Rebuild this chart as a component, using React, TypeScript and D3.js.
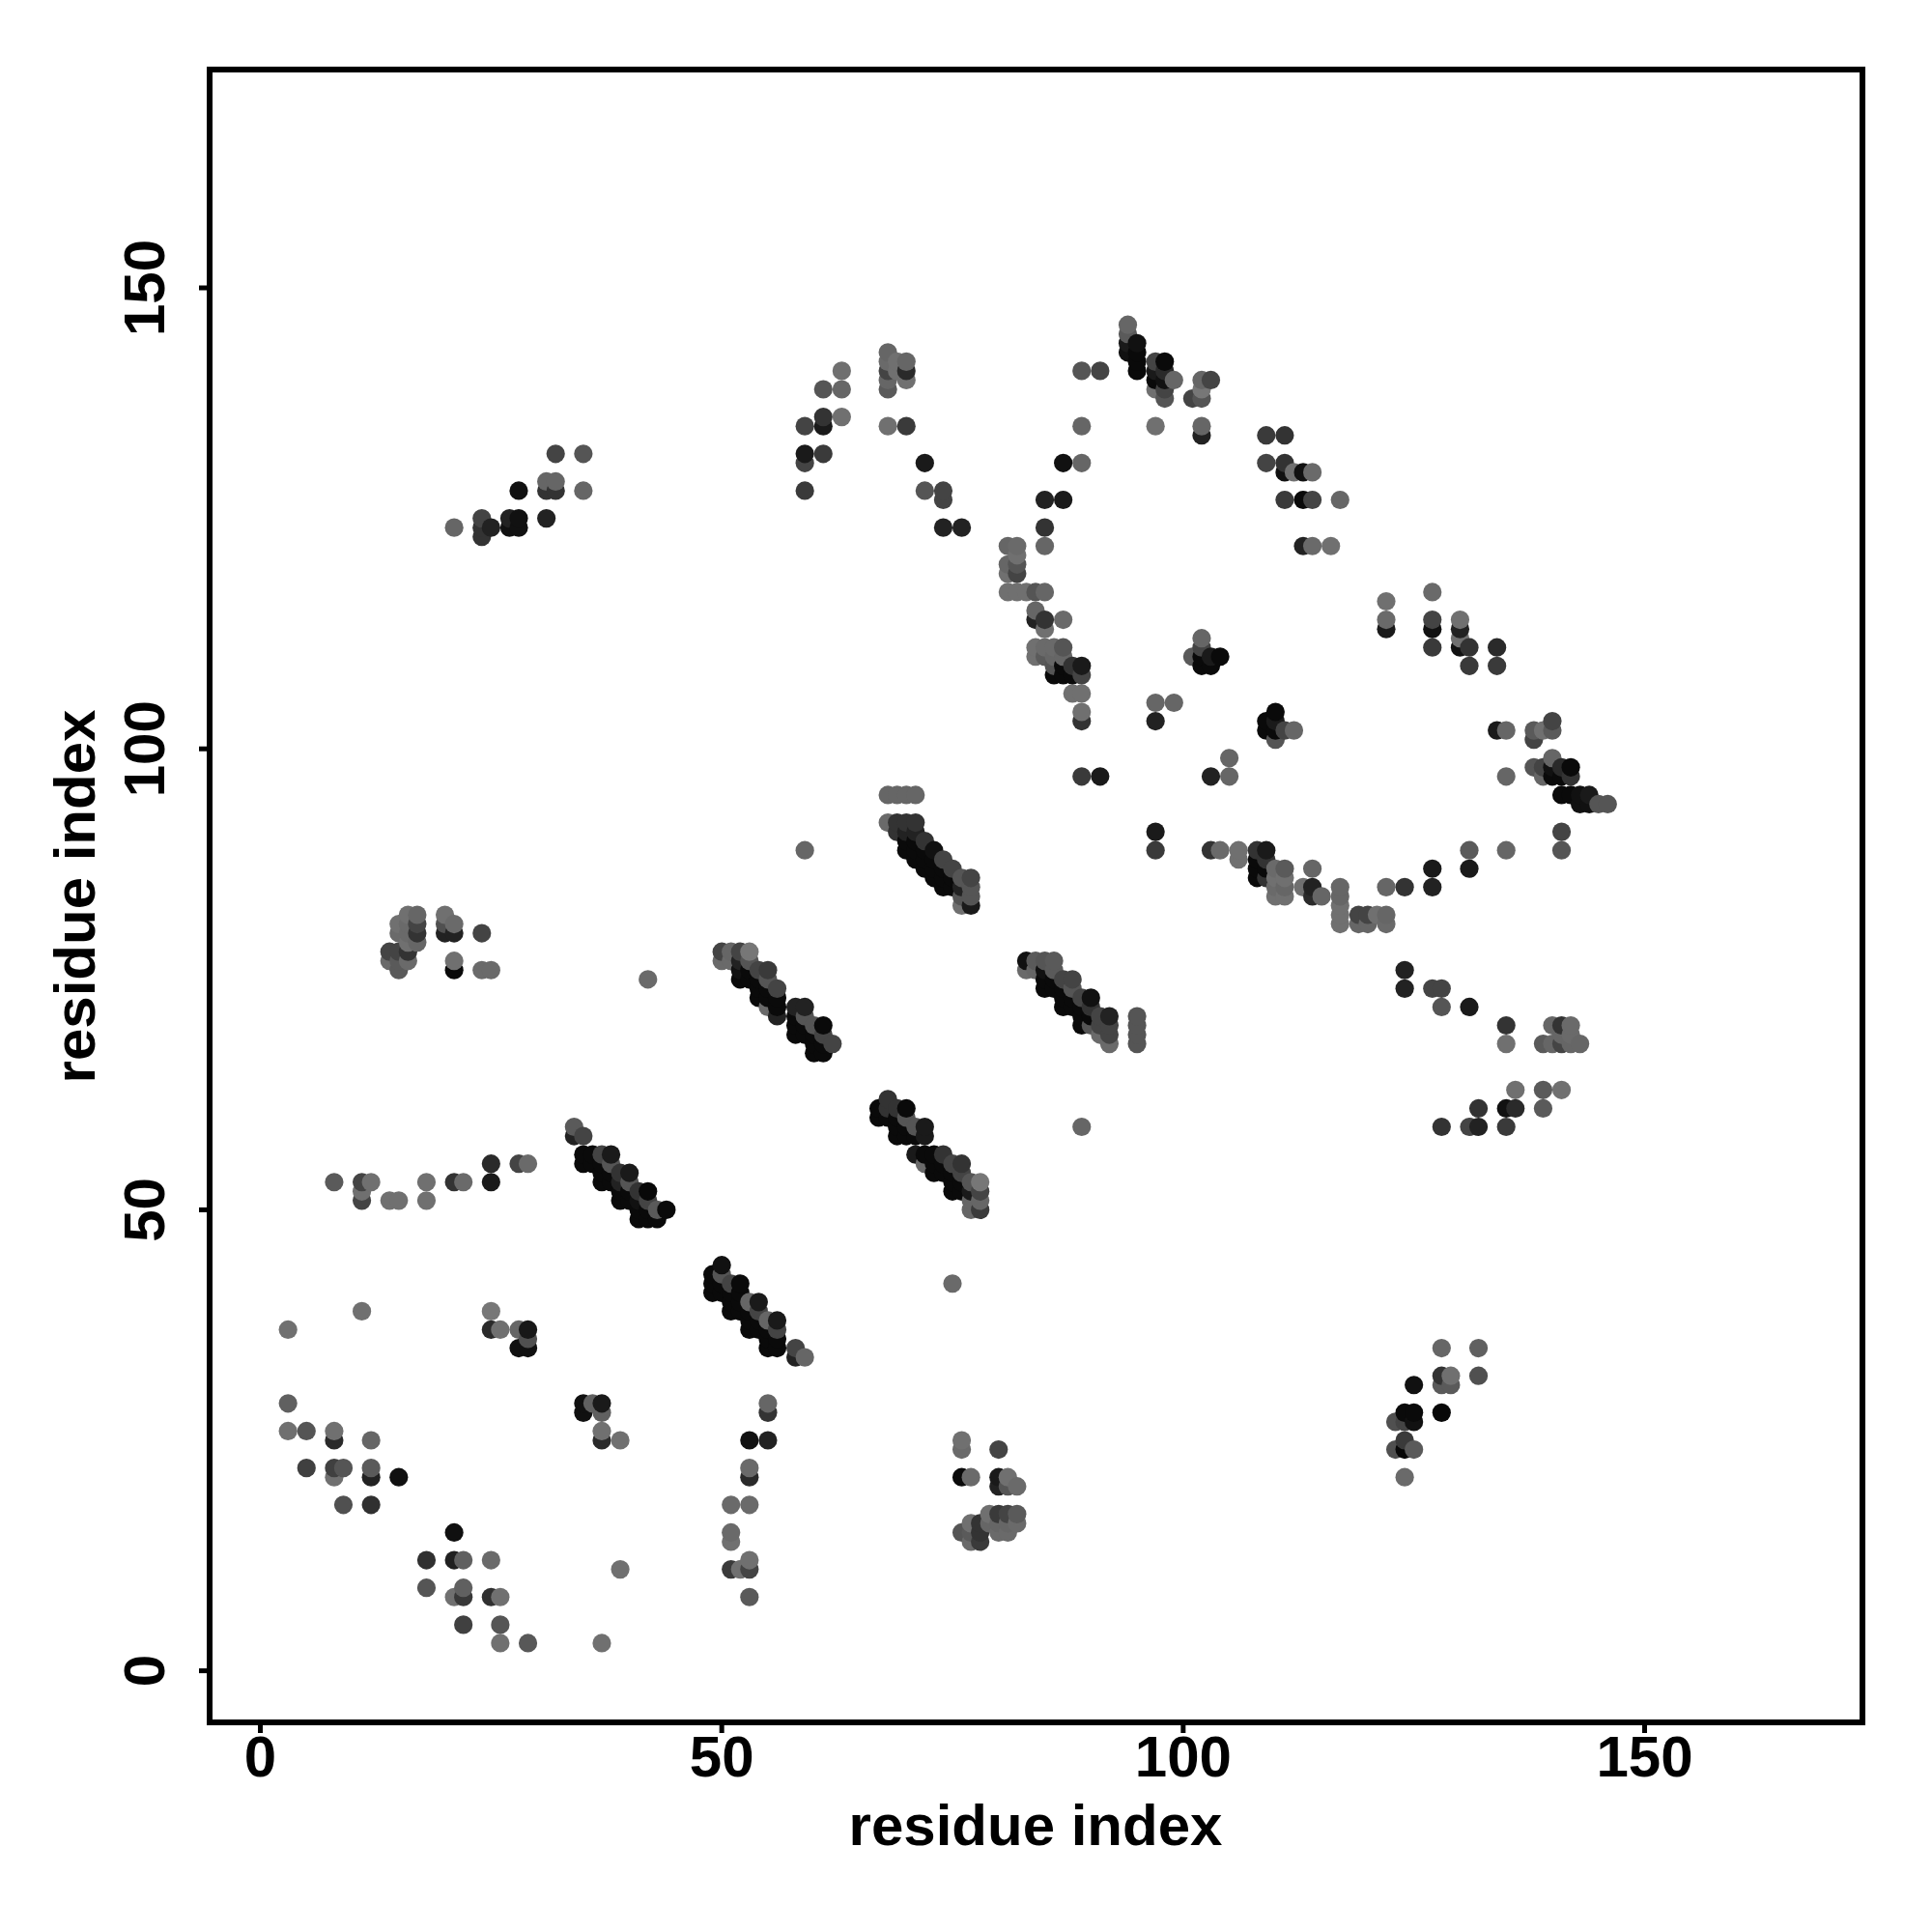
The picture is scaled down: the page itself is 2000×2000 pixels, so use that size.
import React from "react";
import * as d3 from "d3";

type P = [number, number, number];

const tickValues = [0, 50, 100, 150];
const axisTitle = "residue index";

// Each contact: [residue i, residue j, grey level]
const lowerLeft: P[] = [
  [11,39,0x70],[3,37,0x70],[25,39,0x77],[25,37,0x2a],[26,37,0x70],[28,37,0x66],[29,37,0x18],[29,36,0x50],[28,35,0x10],[29,35,0x10],
  [3,29,0x60],[3,26,0x70],[5,26,0x55],[8,26,0x70],[8,25,0x2a],[12,25,0x66],[5,22,0x40],[8,22,0x40],[9,22,0x55],[8,21,0x70],[12,22,0x5a],[12,21,0x22],[15,21,0x10],
  [9,18,0x50],[12,18,0x30],[21,15,0x10],[18,12,0x30],[21,12,0x20],[22,12,0x60],[25,12,0x6a],[39,11,0x70],[18,9,0x55],[22,9,0x60],[21,8,0x70],[22,8,0x38],[25,8,0x30],[26,8,0x70],
  [22,5,0x40],[26,5,0x55],[26,3,0x70],[29,3,0x58],[37,3,0x70],[35,29,0x10],[36,29,0x60],[37,29,0x1a],[35,28,0x10],[37,28,0x60],[37,26,0x70],[37,25,0x2a],[39,25,0x70],
];
const strandA: P[] = [
  [50,44,0x11],[49,43,0x0a],[49,42,0x0a],[49,41,0x0a],[50,43,0x55],[50,42,0x0a],[50,41,0x0a],[51,42,0x44],[51,41,0x0a],[51,40,0x0a],[51,39,0x0a],
  [52,42,0x0a],[52,41,0x0a],[52,40,0x0a],[52,39,0x0a],[53,40,0x66],[53,39,0x0a],[53,38,0x0a],[53,37,0x0a],[54,40,0x1a],[54,39,0x44],[54,38,0x0a],[54,37,0x0a],
  [55,38,0x66],[55,37,0x0a],[55,36,0x0a],[55,35,0x0a],[56,38,0x1a],[56,37,0x44],[56,36,0x0a],[56,35,0x0a],[58,35,0x44],[58,34,0x22],[59,34,0x66],
];
const lowerMiddle: P[] = [
  [55,29,0x66],[55,28,0x33],[53,25,0x11],[55,25,0x22],[53,22,0x6a],[53,21,0x2a],[51,18,0x6a],[53,18,0x6a],[51,15,0x6a],[51,14,0x70],[51,11,0x3a],[52,11,0x70],[53,12,0x70],[53,11,0x44],[53,8,0x5a],[75,42,0x6a],
  [76,25,0x70],[76,24,0x6a],[80,24,0x44],[76,21,0x0a],[77,21,0x6a],[80,21,0x1a],[81,21,0x70],[80,20,0x22],[81,20,0x55],[82,20,0x6a],
  [79,17,0x70],[80,17,0x3a],[81,17,0x44],[82,17,0x5a],[82,16,0x6a],[80,15,0x6a],[81,15,0x6a],[79,16,0x66],[80,16,0x66],[81,16,0x66],[77,16,0x70],[78,16,0x33],[76,15,0x55],[78,15,0x33],[77,15,0x5a],[77,14,0x6a],[78,14,0x3a],
];
const lowerRight: P[] = [
  [128,35,0x66],[132,35,0x60],[128,32,0x33],[129,32,0x70],[128,31,0x5a],[129,31,0x5a],[132,32,0x50],[125,31,0x11],[124,28,0x0a],[125,28,0x0a],[128,28,0x08],[123,27,0x50],[124,27,0x44],[125,27,0x11],
  [124,25,0x3a],[123,24,0x50],[124,24,0x08],[125,24,0x5a],[124,21,0x6a],
];
const leftRow: P[] = [
  [8,53,0x5a],[11,53,0x44],[12,53,0x70],[11,52,0x70],[11,51,0x44],[14,51,0x70],[15,51,0x70],[18,53,0x70],[18,51,0x70],[21,53,0x33],[22,53,0x6a],[25,55,0x2a],[25,53,0x1a],[28,55,0x44],[29,55,0x6a],
  [34,59,0x5a],[34,58,0x22],[35,58,0x44],
];
const strandB: P[] = [
  [35,56,0x0a],[36,56,0x0a],[37,56,0x44],[38,56,0x1a],[35,55,0x0a],[36,55,0x0a],[37,55,0x0a],[38,55,0x55],[37,54,0x0a],[37,53,0x0a],[38,54,0x0a],[39,54,0x33],[40,54,0x1a],[38,53,0x0a],[39,53,0x22],[40,53,0x55],
  [39,52,0x0a],[39,51,0x0a],[40,52,0x0a],[41,52,0x33],[42,52,0x08],[40,51,0x0a],[41,51,0x11],[42,51,0x44],[43,50,0x5a],[44,50,0x0a],[41,49,0x0a],[42,49,0x0a],[43,49,0x0a],[41,50,0x0a],[42,50,0x0a],
];
const leftCluster: P[] = [
  [16,82,0x70],[17,82,0x66],[15,81,0x70],[16,81,0x6a],[17,81,0x44],[15,80,0x6a],[16,80,0x6a],[17,80,0x33],[16,79,0x70],[17,79,0x66],[14,78,0x44],[15,78,0x44],[16,78,0x33],[14,77,0x6a],[15,77,0x5a],[16,77,0x6a],[15,76,0x5a],
  [20,82,0x70],[20,81,0x50],[21,81,0x6a],[20,80,0x22],[21,80,0x22],[24,80,0x44],[21,77,0x70],[21,76,0x0a],[24,76,0x6a],[25,76,0x6a],[42,75,0x6a],
];
const strandC: P[] = [
  [50,78,0x44],[51,78,0x66],[52,78,0x44],[53,78,0x77],[50,77,0x6a],[51,77,0x6a],[52,77,0x22],[53,77,0x55],[52,76,0x11],[53,76,0x0a],[54,76,0x44],[55,76,0x3a],[52,75,0x0a],[53,75,0x0a],[54,75,0x0a],[55,75,0x55],
  [54,74,0x0a],[55,74,0x0a],[56,74,0x44],[54,73,0x0a],[55,73,0x0a],[56,73,0x0a],[55,72,0x6a],[56,72,0x0a],[56,71,0x22],
  [58,72,0x22],[59,72,0x22],[58,71,0x0a],[59,71,0x55],[58,70,0x0a],[59,70,0x0a],[60,70,0x55],[61,70,0x0a],[58,69,0x0a],[59,69,0x0a],[60,69,0x0a],[61,69,0x44],[62,68,0x44],[60,68,0x0a],[61,68,0x0a],[60,67,0x0a],[61,67,0x0a],
];
const strandE: P[] = [
  [83,77,0x11],[83,76,0x6a],[84,77,0x5a],[85,77,0x55],[86,77,0x5a],[84,76,0x66],[85,76,0x11],[86,76,0x5a],[85,75,0x0a],[86,75,0x0a],[87,75,0x44],[88,75,0x44],[85,74,0x0a],[86,74,0x0a],[87,74,0x0a],[88,74,0x55],
  [87,73,0x0a],[88,73,0x0a],[89,73,0x44],[90,73,0x11],[87,72,0x0a],[88,72,0x0a],[89,72,0x0a],[90,72,0x33],[89,71,0x0a],[89,70,0x0a],[90,71,0x0a],[91,71,0x44],[92,71,0x22],[90,70,0x55],[91,70,0x44],[92,70,0x44],
  [91,69,0x6a],[92,69,0x44],[92,68,0x6a],[95,71,0x55],[95,70,0x55],[95,69,0x55],[95,68,0x55],[89,59,0x66],
];
const strandD: P[] = [
  [68,62,0x33],[67,61,0x0a],[68,61,0x33],[67,60,0x0a],[68,60,0x0a],[69,61,0x33],[70,61,0x0a],[69,60,0x0a],[70,60,0x55],[71,59,0x55],[72,59,0x1a],[69,59,0x0a],[70,59,0x0a],[69,58,0x0a],[70,58,0x0a],[71,58,0x0a],[72,58,0x1a],
  [71,56,0x1a],[72,56,0x0a],[73,56,0x0a],[74,56,0x33],[72,55,0x6a],[73,55,0x0a],[74,55,0x0a],[75,55,0x44],[76,55,0x33],[73,54,0x0a],[74,54,0x0a],[75,54,0x0a],[76,54,0x44],[75,53,0x0a],[76,53,0x0a],[77,53,0x55],[78,53,0x77],
  [75,52,0x0a],[76,52,0x0a],[77,52,0x1a],[78,52,0x44],[77,51,0x66],[78,51,0x66],[77,50,0x66],[78,50,0x3a],
];
const strandF: P[] = [
  [68,95,0x66],[69,95,0x66],[70,95,0x66],[71,95,0x66],[68,92,0x6a],[69,92,0x33],[70,92,0x33],[71,92,0x33],[69,91,0x33],[70,91,0x22],[71,91,0x22],[70,90,0x0a],[71,90,0x0a],[72,90,0x33],
  [70,89,0x0a],[71,89,0x0a],[72,89,0x0a],[73,89,0x11],[71,88,0x0a],[72,88,0x0a],[73,88,0x0a],[74,88,0x44],[72,87,0x0a],[73,87,0x0a],[74,87,0x0a],[75,87,0x44],
  [73,86,0x0a],[74,86,0x0a],[75,86,0x0a],[76,86,0x55],[77,86,0x44],[74,85,0x0a],[75,85,0x0a],[76,85,0x22],[77,85,0x55],[76,84,0x55],[77,84,0x55],[76,83,0x70],[77,83,0x1a],[59,89,0x66],
];
const rightLower: P[] = [
  [89,97,0x3a],[91,97,0x1a],[103,97,0x22],[105,97,0x66],[97,91,0x1a],[97,89,0x3a],[103,89,0x33],[104,89,0x6a],[106,89,0x70],[106,88,0x70],[108,89,0x33],[109,89,0x1a],[108,88,0x0a],[109,88,0x33],[108,87,0x0a],[109,87,0x0a],[108,86,0x0a],[109,86,0x33],
  [110,87,0x6a],[111,87,0x5a],[110,86,0x70],[111,86,0x70],[110,85,0x6a],[111,85,0x66],[110,84,0x70],[111,84,0x70],[114,87,0x66],[113,85,0x70],[114,85,0x22],[114,84,0x2a],[115,84,0x66],
  [117,85,0x66],[117,84,0x66],[117,83,0x70],[117,82,0x70],[117,81,0x70],[119,82,0x44],[119,81,0x66],[120,82,0x44],[120,81,0x66],[121,82,0x70],[122,82,0x66],[122,81,0x6a],[122,85,0x66],
  [124,85,0x33],[127,85,0x22],[127,87,0x1a],[131,87,0x1a],[131,89,0x5a],[135,89,0x66],[141,89,0x55],[141,91,0x44],
  [124,76,0x22],[124,74,0x22],[127,74,0x44],[128,74,0x44],[128,72,0x55],[131,72,0x1a],[135,70,0x33],[135,68,0x70],[140,70,0x66],[141,70,0x33],[142,70,0x6a],[139,68,0x5a],[140,68,0x66],[141,68,0x44],[142,68,0x66],[143,68,0x66],[141,69,0x66],[142,69,0x6a],
  [136,63,0x70],[139,63,0x5a],[141,63,0x70],[139,61,0x5a],[136,61,0x2a],[135,61,0x11],[132,61,0x33],[128,59,0x33],[131,59,0x44],[132,59,0x22],[135,59,0x3a],
];
const centreUpper: P[] = [
  [85,124,0x33],[81,122,0x66],[82,122,0x6a],[85,122,0x66],[82,121,0x70],[81,120,0x66],[82,120,0x55],[81,119,0x70],[82,119,0x44],[81,117,0x70],[82,117,0x70],[83,117,0x70],[84,117,0x55],[85,117,0x66],
  [84,115,0x66],[84,114,0x22],[85,114,0x33],[87,114,0x6a],[85,113,0x70],[84,111,0x70],[85,111,0x6a],[86,111,0x6a],[87,111,0x55],[84,110,0x70],[85,110,0x5a],[86,110,0x66],[87,110,0x66],
  [88,109,0x33],[89,109,0x1a],[86,109,0x55],[87,109,0x0a],[86,108,0x0a],[87,108,0x0a],[88,108,0x0a],[89,108,0x44],[88,106,0x70],[89,106,0x70],[89,104,0x70],[89,103,0x33],
  [97,105,0x66],[99,105,0x66],[97,103,0x22],[102,112,0x66],[102,111,0x44],[101,110,0x5a],[102,110,0x0a],[103,110,0x1a],[104,110,0x0a],[102,109,0x0a],[103,109,0x0a],
  [110,104,0x0a],[109,103,0x0a],[110,103,0x1a],[109,102,0x0a],[110,102,0x0a],[111,102,0x44],[112,102,0x66],[110,101,0x55],[105,99,0x66],
];
const rightUpper: P[] = [
  [122,116,0x70],[122,114,0x6a],[122,113,0x1a],[127,117,0x6a],[127,114,0x44],[127,113,0x11],[127,111,0x3a],[130,114,0x70],[130,113,0x22],[130,112,0x70],[130,111,0x11],[131,111,0x33],[131,109,0x3a],[134,111,0x2a],[134,109,0x3a],
  [134,102,0x1a],[135,102,0x66],[138,102,0x5a],[139,102,0x70],[140,102,0x5a],[140,103,0x44],[138,101,0x44],[135,97,0x66],[138,98,0x55],[139,98,0x44],[140,99,0x66],[140,98,0x11],[141,98,0x2a],[142,98,0x0a],[139,97,0x66],[140,97,0x0a],[141,97,0x0a],[142,97,0x33],
  [141,95,0x0a],[142,95,0x0a],[143,95,0x11],[144,95,0x1a],[143,94,0x11],[144,94,0x11],[145,94,0x55],[146,94,0x55],
];
const topArc: P[] = [
  [94,146,0x66],[94,145,0x5a],[94,144,0x1a],[94,143,0x11],[95,144,0x11],[95,143,0x0a],[95,142,0x0a],[95,141,0x0a],[97,142,0x44],[98,142,0x0a],[97,141,0x1a],[98,141,0x2a],[97,140,0x0a],[98,140,0x11],[99,140,0x66],[97,139,0x70],[98,139,0x44],[98,138,0x55],
  [102,140,0x66],[103,140,0x44],[102,139,0x77],[101,138,0x44],[102,138,0x55],[97,135,0x70],[102,135,0x66],[102,134,0x22],
  [109,134,0x3a],[111,134,0x33],[109,131,0x44],[111,131,0x33],[111,130,0x11],[112,130,0x70],[113,130,0x11],[114,130,0x6a],[111,127,0x3a],[113,127,0x0a],[114,127,0x44],[117,127,0x66],[113,122,0x22],[114,122,0x6a],[116,122,0x70],
  [63,141,0x70],[61,139,0x55],[63,139,0x66],[61,136,0x33],[61,135,0x1a],[63,136,0x70],[59,135,0x44],[59,132,0x1a],[59,131,0x44],[61,132,0x3a],[59,128,0x3a],
  [68,143,0x66],[68,142,0x6a],[68,141,0x44],[68,140,0x66],[68,139,0x5a],[69,142,0x70],[69,141,0x70],[70,142,0x66],[70,141,0x2a],[70,140,0x70],[68,135,0x70],[70,135,0x3a],
  [72,131,0x1a],[72,128,0x55],[74,128,0x44],[74,127,0x44],[74,124,0x22],[76,124,0x22],[89,141,0x55],[91,141,0x44],[89,135,0x66],[87,131,0x11],[89,131,0x66],[85,127,0x22],[87,127,0x1a],
];
const upperLeft: P[] = [
  [21,124,0x66],[24,125,0x44],[24,124,0x33],[24,123,0x33],[25,124,0x22],[27,125,0x22],[27,124,0x11],[28,125,0x11],[28,124,0x11],[28,128,0x11],[31,125,0x22],[31,129,0x66],[31,128,0x33],[32,129,0x66],[32,128,0x33],[32,132,0x44],[35,132,0x55],[35,128,0x66],
];

const groups = [lowerLeft, strandA, lowerMiddle, lowerRight, leftRow, strandB, leftCluster, strandC, strandE, strandD, strandF, rightLower, centreUpper, rightUpper, topArc, upperLeft];

const width = 2000, height = 2000;
const box = { left: 217, right: 1928, top: 72, bottom: 1783 };
const x = d3.scaleLinear().domain([0, 150]).range([269.5, 1702.5]);
const y = d3.scaleLinear().domain([0, 150]).range([1729.6, 298]);
const fontFamily = "'Liberation Sans', Arial, sans-serif";
const fontSize = 60;

export default function App() {
  const points = d3.merge<P>(groups).slice().sort((a, b) => d3.ascending(a[0], b[0]) || d3.ascending(a[1], b[1]));
  return (
    <svg width={width} height={height} style={{ position: "absolute", left: 0, top: 0, background: "#fff" }} fontFamily={fontFamily} fontWeight="bold" fontSize={fontSize}>
      {points.map(([i, j, g], k) => (
        <circle key={k} cx={x(i)} cy={y(j)} r={9.6} fill={d3.rgb(g, g, g).formatHex()} />
      ))}
      <rect x={box.left} y={box.top} width={box.right - box.left} height={box.bottom - box.top} fill="none" stroke="#000" strokeWidth={6} />
      {tickValues.map((t) => (
        <g key={"x" + t}>
          <line x1={x(t)} x2={x(t)} y1={box.bottom} y2={box.bottom + 11} stroke="#000" strokeWidth={5} />
          <text x={x(t)} y={1839} textAnchor="middle">{t}</text>
        </g>
      ))}
      {tickValues.map((t) => (
        <g key={"y" + t}>
          <line x1={box.left} x2={box.left - 11} y1={y(t)} y2={y(t)} stroke="#000" strokeWidth={5} />
          <text transform={`translate(170,${y(t)}) rotate(-90)`} textAnchor="middle">{t}</text>
        </g>
      ))}
      <text x={1072} y={1910} textAnchor="middle">{axisTitle}</text>
      <text transform={`translate(98,928) rotate(-90)`} textAnchor="middle">{axisTitle}</text>
    </svg>
  );
}
